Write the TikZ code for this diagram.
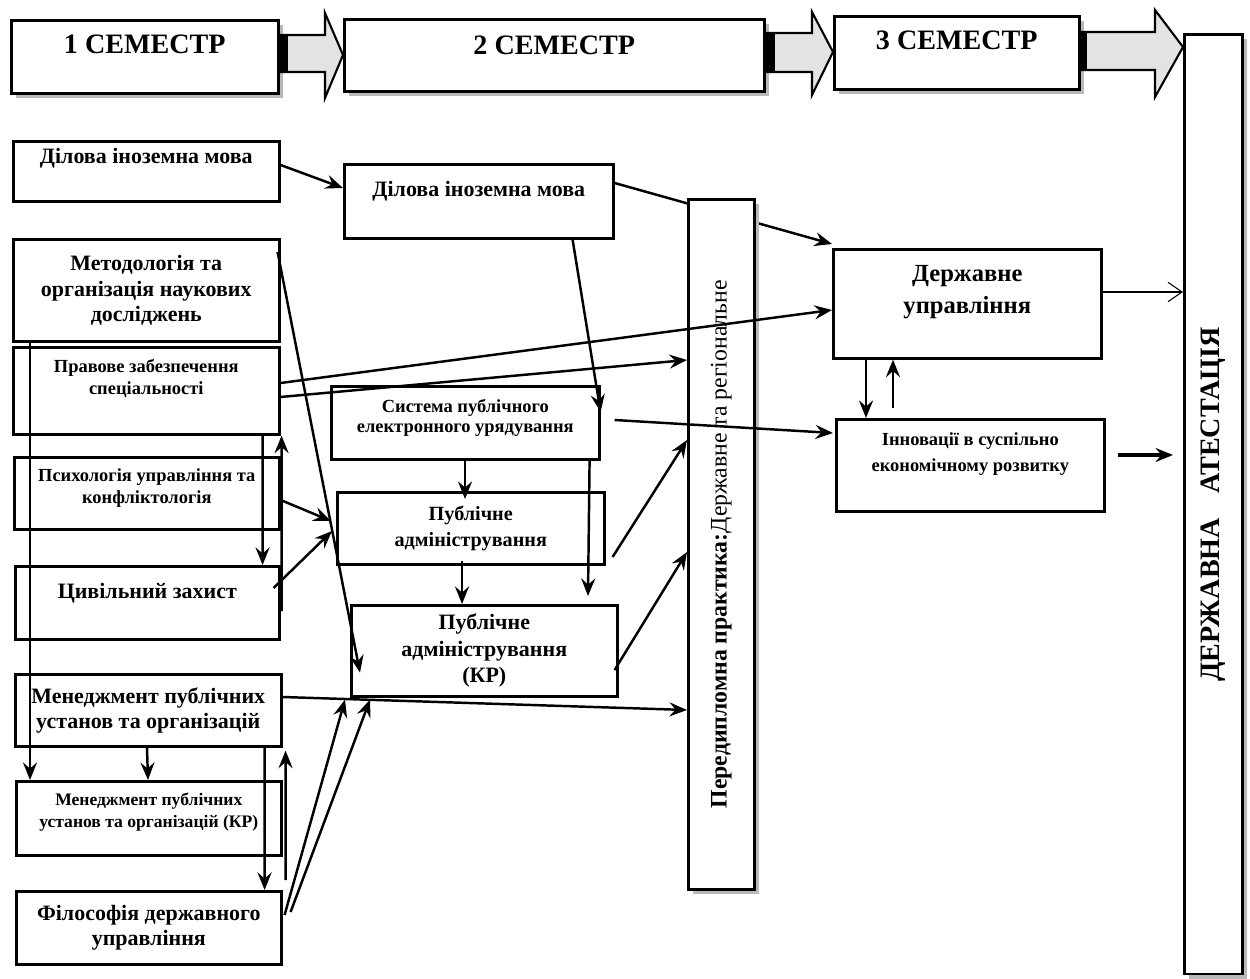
\documentclass[tikz,border=0pt]{standalone}
\usepackage{fontspec}
\setmainfont{Liberation Serif}
\usepackage{graphicx}
\usetikzlibrary{arrows.meta,calc,shadows}
\newcommand{\padb}[1]{\rule[-#1]{0pt}{#1}}
\tikzset{
  box/.style={draw, fill=white, line width=1.5pt, anchor=north west, align=center, inner sep=2pt,
    font=\bfseries\fontsize{12.5}{14.5}\selectfont},
  sbox/.style={box, font=\bfseries\fontsize{10.5}{12.5}\selectfont},
  shbox/.style={box, drop shadow={shadow xshift=2.5pt, shadow yshift=-2.5pt, fill=gray!55, opacity=1}},
  hbox/.style={shbox, font=\bfseries\fontsize{16}{19}\selectfont},
  conn/.style={line width=1.4pt, -{Stealth[length=10pt, width=8pt, inset=3.5pt]}},
  harrow/.style={line width=1.2pt, fill=gray!22},
}
\begin{document}
\begin{tikzpicture}[x=0.02cm, y=-0.02cm]
\useasboundingbox (0,0) rectangle (1250,979);

\node[hbox, minimum width=5.34cm, minimum height=1.46cm] (h1) at (10,19) {1 СЕМЕСТР\padb{14pt}};
\node[hbox, minimum width=8.40cm, minimum height=1.44cm] (h2) at (343,18) {2 СЕМЕСТР\padb{12pt}};
\node[hbox, minimum width=4.90cm, minimum height=1.46cm] (h3) at (833,15) {3 СЕМЕСТР\padb{14pt}};
\node[shbox, minimum width=1.16cm, minimum height=18.80cm, font=\bfseries\fontsize{16}{19}\selectfont] (dat) at (1183,33)
  {\rotatebox{90}{ДЕРЖАВНА\hspace{14pt}АТЕСТАЦІЯ}};

\filldraw[harrow] (h1.east |- 0,35) -- (325,35) -- (325,13) -- (h2.west |- 0,55) -- (325,98) -- (325,72) -- (h1.east |- 0,72) -- cycle;
\fill (h1.east |- 0,35) rectangle (288,72);
\filldraw[harrow] (h2.east |- 0,33) -- (812,33) -- (812,12) -- (h3.west |- 0,52) -- (812,95) -- (812,72) -- (h2.east |- 0,72) -- cycle;
\fill (h2.east |- 0,33) rectangle (775,72);
\filldraw[harrow] (h3.east |- 0,32) -- (1155,32) -- (1155,10) -- (dat.west |- 0,47) -- (1155,97) -- (1155,70) -- (h3.east |- 0,70) -- cycle;
\fill (h3.east |- 0,32) rectangle (1087,70);

% 1 semester
\node[box, minimum width=5.32cm, minimum height=1.20cm] (l1) at (12,140) {Ділова іноземна мова\padb{18pt}};
\node[box, minimum width=5.32cm, minimum height=2.04cm] (l2) at (12,238) {Методологія та\\організація наукових\\досліджень};
\node[sbox, minimum width=5.32cm, minimum height=1.74cm] (l3) at (12,346) {Правове забезпечення\\спеціальності\padb{16pt}};
\node[sbox, minimum width=5.30cm, minimum height=1.44cm] (l4) at (13,456) {Психологія управління та\\конфліктологія\padb{8.5pt}};
\node[box, minimum width=5.28cm, minimum height=1.46cm] (l5) at (14,565) {Цивільний захист\padb{14pt}};
\node[box, minimum width=5.32cm, minimum height=1.44cm] (l6) at (14,673) {Менеджмент публічних\\установ та організацій};
\node[sbox, minimum width=5.30cm, minimum height=1.48cm, font=\bfseries\fontsize{10}{12.5}\selectfont] (l7) at (15,780)
  {Менеджмент публічних\\установ та організацій (КР)\padb{9.5pt}};
\node[box, minimum width=5.30cm, minimum height=1.46cm] (l8) at (15,890) {Філософія державного\\управління};

% 2 semester
\node[box, minimum width=5.38cm, minimum height=1.48cm] (m1) at (343,163) {Ділова іноземна мова\padb{14pt}};
\node[sbox, minimum width=5.36cm, minimum height=1.46cm, font=\bfseries\fontsize{10.5}{11.5}\selectfont] (m2) at (330,385)
  {Система публічного\\електронного урядування\padb{8pt}};
\node[box, minimum width=5.34cm, minimum height=1.44cm, font=\bfseries\fontsize{11.5}{14.5}\selectfont] (m3) at (336,491) {Публічне\\адміністрування};
\node[box, minimum width=5.32cm, minimum height=1.82cm, font=\bfseries\fontsize{12.5}{15}\selectfont] (m4) at (350,604) {Публічне\\адміністрування\\(КР)};

% 3 semester
\node[box, minimum width=5.36cm, minimum height=2.18cm, font=\bfseries\fontsize{14}{18}\selectfont] (r1) at (832,248) {Державне\\управління\padb{16pt}};
\node[sbox, minimum width=5.36cm, minimum height=1.84cm, font=\bfseries\fontsize{10.5}{15}\selectfont] (r2) at (835,418)
  {Інновації в суспільно\\економічному розвитку\padb{15pt}};

\draw[conn] ($(m1.north east)+(0,20)$) -- ($(r1.north west)+(0,-4)$);

\node[shbox, minimum width=1.32cm, minimum height=13.80cm, font=\fontsize{13.5}{16}\selectfont] (pr) at (687,198)
  {\rotatebox{90}{\textbf{Передипломна практика:}Державне та регіональне}};

\draw[conn] ($(l1.north east)+(0,25)$) -- ($(m1.north west)+(0,25)$);
\draw[conn] ($(m1.south east)+(-42,0)$) -- ($(m2.north east)+(0,27)$);
\draw[conn] ($(l2.north east)+(-3,14)$) -- ($(m4.south west)+(10,-25)$);
\draw[conn] ($(l3.north east)+(0,37)$) -- ($(r1.north west)+(0,62)$);
\draw[conn] ($(l3.north east)+(0,51)$) -- ($(pr.north west)+(0,162)$);
\draw[conn] ($(l2.south west)+(18,0)$) -- ($(l7.north west)+(15,0)$);
\draw[conn] ($(l3.south east)+(-18,0)$) -- ($(l5.north east)+(-18,0)$);
\draw[conn] ($(l5.north east)+(1,46)$) -- ($(l3.south east)+(1,0)$);
\draw[conn] ($(l4.north east)+(0,44)$) -- ($(m3.north west)+(-5,30)$);
\draw[conn] ($(l5.north east)+(-7,23)$) -- ($(m3.north west)+(-4,40)$);
\draw[conn] ($(l6.north east)+(0,24)$) -- ($(pr.north west)+(0,512)$);
\draw[conn] ($(l8.north east)+(2,25)$) -- ($(m4.south west)+(-5,2)$);
\draw[conn] ($(l8.north east)+(8,22)$) -- ($(m4.south west)+(20,2)$);
\draw[conn] ($(l6.south east)+(-18,0)$) -- ($(l8.north east)+(-18,0)$);
\draw[conn] ($(l8.north east)+(3,-10)$) -- ($(l6.south east)+(3,3)$);
\draw[conn] ($(l6.south west)+(133,0)$) -- ($(l7.north west)+(133,0)$);
\draw[conn] ($(m2.south west)+(135,0)$) -- ($(m3.north west)+(129,8)$);
\draw[conn] ($(m2.south east)+(-11,0)$) -- ($(m4.north west)+(238,-8)$);
\draw[conn] ($(m3.south west)+(126,-5)$) -- ($(m4.north west)+(112,0)$);
\draw[conn] ($(m3.north east)+(7,66)$) -- ($(pr.north west)+(0,242)$);
\draw[conn] ($(m4.north east)+(-4,66)$) -- ($(pr.north west)+(0,354)$);
\draw[conn] ($(m2.north east)+(14,35)$) -- ($(r2.north west)+(-2,15)$);
\draw[conn] ($(r1.south west)+(34,0)$) -- ($(r2.north west)+(31,0)$);
\draw[conn] ($(r2.north west)+(58,-10)$) -- ($(r1.south west)+(61,0)$);
\draw[line width=0.6pt, -{Straight Barb[length=8pt, width=11pt]}] ($(r1.north east)+(0,44)$) -- ($(dat.north west)+(0,259)$);
\draw[conn, line width=2.2pt] ($(r2.north east)+(12,37)$) -- ($(dat.north west)+(-10,422)$);
\end{tikzpicture}
\end{document}
